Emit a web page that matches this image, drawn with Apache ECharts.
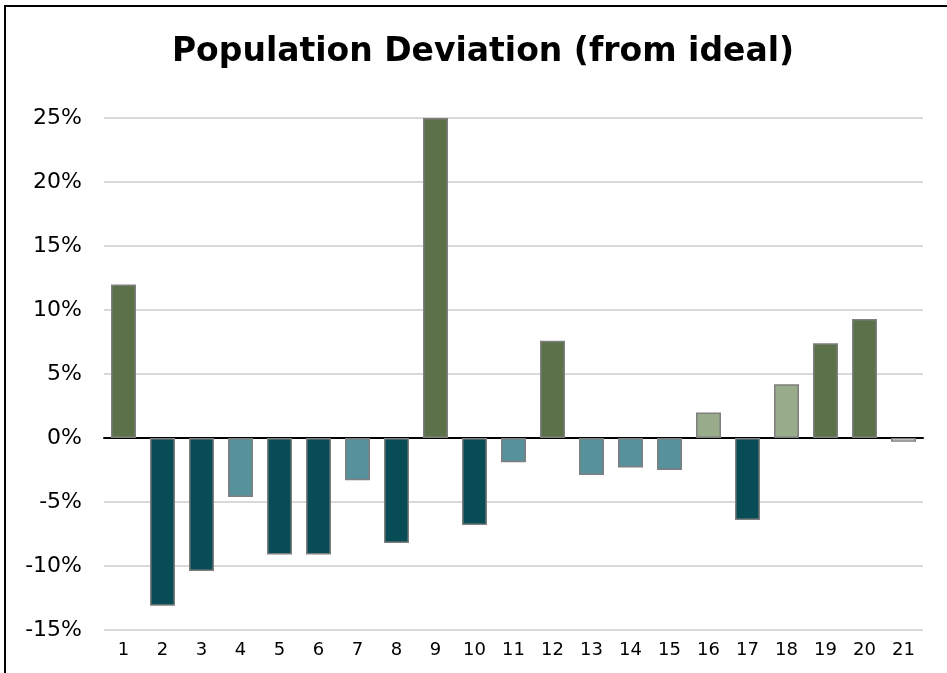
<!DOCTYPE html>
<html>
<head>
<meta charset="utf-8">
<script src="https://cdn.jsdelivr.net/npm/echarts@6/dist/echarts.min.js"></script>
<style>
  html, body { margin: 0; padding: 0; background: #fff; overflow: hidden; }
  #frame { position: absolute; left: 4px; top: 5px; width: 960px; height: 700px; border: 2px solid #000; box-sizing: border-box; }
  #charts { position: absolute; left: 0; top: 0; width: 947px; height: 673px; }
</style>
</head>
<body>
<div id="frame"></div>
<div id="charts"></div>
<script>
var districts = ['1','2','3','4','5','6','7','8','9','10','11','12','13','14','15','16','17','18','19','20','21'];
var deviation = [12.0, -13.1, -10.4, -4.6, -9.1, -9.1, -3.3, -8.2, 25.0, -6.8, -1.9, 7.6, -2.9, -2.3, -2.5, 2.0, -6.4, 4.2, 7.4, 9.3, -0.3];
var yTicks = [-15, -10, -5, 0, 5, 10, 15, 20, 25];

// colour by size of the deviation
function barColor(v) {
    if (Math.abs(v) < 1) return '#ffffff';
    if (v >= 5) return '#5a714a';
    if (v > 0) return '#98ab8a';
    if (v > -5) return '#56919c';
    return '#084c56';
}

var myChart = echarts.init(document.getElementById('charts'));

var option = {
    animation: false,
    title: {
        text: 'Population Deviation (from ideal)',
        left: 478,
        textAlign: 'center',
        top: 31,
        textStyle: {
            fontFamily: 'DejaVu Sans',
            fontSize: 33,
            fontWeight: 'bold',
            color: '#000'
        }
    },
    grid: {
        left: 104,
        right: 24,
        top: 118,
        bottom: 43
    },
    xAxis: {
        type: 'category',
        data: districts,
        axisLine: { onZero: true, lineStyle: { color: '#000', width: 2 } },
        axisTick: { show: false },
        axisLabel: {
            fontFamily: 'DejaVu Sans',
            fontSize: 18,
            color: '#000',
            margin: 11
        }
    },
    yAxis: {
        type: 'value',
        min: yTicks[0],
        max: yTicks[yTicks.length - 1],
        interval: 5,
        axisLine: { show: false },
        axisTick: { show: false },
        splitLine: { lineStyle: { color: '#d9d9d9', width: 2 } },
        axisLabel: {
            formatter: '{value}%',
            fontFamily: 'DejaVu Sans',
            fontSize: 22,
            color: '#000',
            margin: 22
        }
    },
    series: [
        {
            type: 'bar',
            barWidth: 25,
            data: deviation.map(function (v) {
                return {
                    value: v,
                    itemStyle: {
                        color: barColor(v),
                        borderColor: '#7f7f7f',
                        borderWidth: 1.5
                    }
                };
            })
        }
    ]
};
myChart.setOption(option);
</script>
</body>
</html>
